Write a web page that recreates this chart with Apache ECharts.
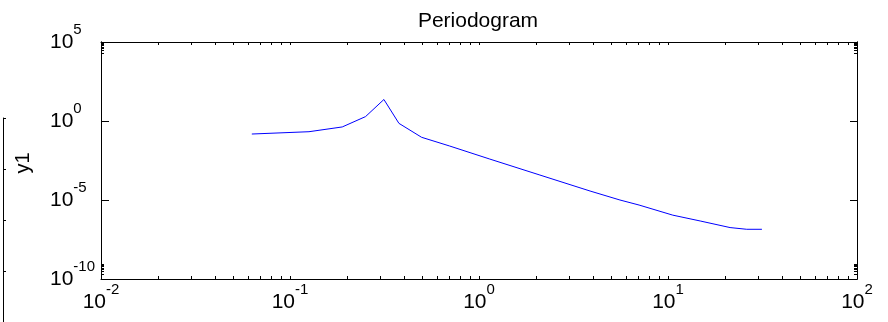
<!DOCTYPE html>
<html>
<head>
    <meta charset="utf-8">
    <title>Periodogram</title>
    <script src="https://cdn.jsdelivr.net/npm/echarts@6/dist/echarts.min.js"></script>
    <style type="text/css">
        * {
            margin: 0;
            padding: 0;
        }

        body {
            background: #fff;
            overflow: hidden;
        }
    </style>
</head>
<body>
<div id="main" style="width: 888px;height: 322px;"></div>
<script type="text/javascript">
    // frequency (rad/s) and power
    var freq = [0.0628, 0.126, 0.189, 0.251, 0.314, 0.377, 0.497, 0.70, 1.14,
        2.1, 3.87, 5.57, 7.03, 10.6, 14.8, 21.3, 26.1, 31.4];
    var power = [0.15, 0.21, 0.42, 1.9, 23, 0.71, 0.093, 0.026, 0.0039,
        3.8e-4, 3.7e-5, 1.0e-5, 4.8e-6, 1.1e-6, 4.7e-7, 1.8e-7, 1.4e-7, 1.4e-7];

    var xTickLabels = [0.01, 0.1, 1, 10, 100];
    var yTickLabels = [1e-10, 1e-5, 1, 1e5];

    // minor ticks 2..9 in every decade on the x axis
    var xTicks = [];
    for (var d = 0; d < xTickLabels.length - 1; d++) {
        for (var m = 1; m < 10; m++) {
            xTicks.push(xTickLabels[d] * m);
        }
    }
    xTicks.push(xTickLabels[xTickLabels.length - 1]);

    // y minor ticks only show up in the first and last decade
    var yMinor = [];
    for (var m = 2; m < 10; m++) {
        yMinor.push(1e-10 * m);
        yMinor.push(1e4 * m);
    }

    var lineData = [];
    for (var i = 0; i < freq.length; i++) {
        lineData.push([freq[i], power[i]]);
    }

    var font = 'Liberation Sans';

    function powLabel(v) {
        var e = Math.round(Math.log(v) / Math.LN10);
        return '{b|10}{e|' + e + '}';
    }

    var labelRich = {
        b: {
            fontSize: 21,
            fontFamily: font,
            color: '#000',
            lineHeight: 40,
            verticalAlign: 'middle'
        },
        e: {
            fontSize: 15,
            fontFamily: font,
            color: '#000',
            lineHeight: 15,
            padding: [0, 0, 25, 0],
            verticalAlign: 'middle'
        }
    };

    function xAx(pos, withLabels) {
        return {
            type: 'log',
            logBase: 10,
            gridIndex: 0,
            position: pos,
            min: 0.01,
            max: 100,
            axisLine: {show: true, onZero: false, lineStyle: {color: '#000', width: 1}},
            axisTick: {show: true, inside: true, length: 3, customValues: xTicks, lineStyle: {color: '#000'}},
            axisLabel: {
                show: withLabels,
                customValues: xTickLabels,
                margin: 3,
                formatter: powLabel,
                rich: labelRich
            },
            splitLine: {show: false},
            minorTick: {show: false}
        };
    }

    function yAx(pos, withLabels, ticks, len) {
        return {
            type: 'log',
            logBase: 10,
            gridIndex: 0,
            position: pos,
            min: 1e-10,
            max: 1e5,
            axisLine: {show: true, onZero: false, lineStyle: {color: '#000', width: 1}},
            axisTick: {show: true, inside: true, length: len, customValues: ticks, lineStyle: {color: '#000'}},
            axisLabel: {
                show: withLabels,
                customValues: yTickLabels,
                margin: 51,
                align: 'left',
                formatter: powLabel,
                rich: labelRich
            },
            splitLine: {show: false}
        };
    }

    var myChart = echarts.init(document.getElementById('main'));
    var option = {
        animation: false,
        backgroundColor: '#fff',
        title: {
            text: 'Periodogram',
            left: 473,
            top: 6,
            textAlign: 'center',
            textStyle: {
                fontSize: 21,
                fontWeight: 'normal',
                fontFamily: font,
                color: '#000'
            }
        },
        graphic: [{
            type: 'text',
            x: 23,
            y: 163,
            rotation: Math.PI / 2,
            style: {
                text: 'y1',
                fontSize: 20,
                fontFamily: font,
                fill: '#000',
                align: 'center',
                verticalAlign: 'middle'
            }
        }],
        grid: [{
            left: 101,
            top: 42,
            width: 756,
            height: 237
        }, {
            // neighbouring plot, mostly cut off at the left edge
            left: -100,
            top: 118,
            width: 103,
            height: 270
        }],
        xAxis: [
            xAx('bottom', true),
            xAx('top', false),
            {
                type: 'value',
                gridIndex: 1,
                show: false
            }
        ],
        yAxis: [
            yAx('left', true, yTickLabels, 8),
            yAx('right', false, yTickLabels, 7),
            yAx('left', false, yMinor, 3),
            yAx('right', false, yMinor, 3),
            {
                type: 'value',
                gridIndex: 1,
                position: 'right',
                min: 0,
                max: 4,
                interval: 1,
                inverse: true,
                axisLine: {show: true, lineStyle: {color: '#000'}},
                axisTick: {show: true, inside: false, length: 3, lineStyle: {color: '#000'}},
                axisLabel: {show: false},
                splitLine: {show: false}
            }
        ],
        series: [{
            type: 'line',
            xAxisIndex: 0,
            yAxisIndex: 0,
            data: lineData,
            showSymbol: false,
            symbol: 'none',
            lineStyle: {color: '#0000ff', width: 1},
            itemStyle: {color: '#0000ff'}
        }]
    };
    myChart.setOption(option);
</script>
</body>
</html>
